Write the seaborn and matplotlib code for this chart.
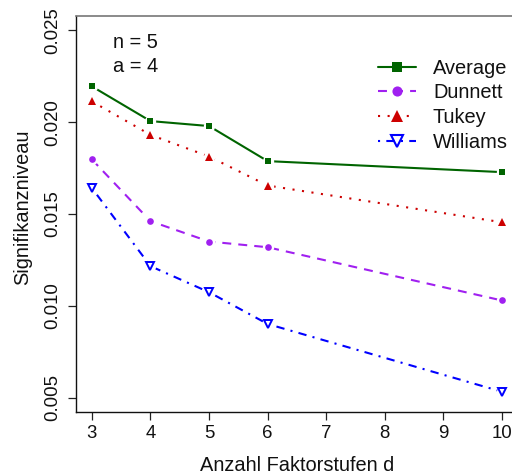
import matplotlib
matplotlib.use("Agg")
import matplotlib.pyplot as plt
from matplotlib.lines import Line2D
import seaborn as sns
import pandas as pd

# Significance level by number of factor levels d (n = 5, a = 4)
d = [3, 4, 5, 6, 10]
average = [0.02195, 0.02006, 0.01979, 0.01788, 0.01728]
dunnett = [0.01797, 0.01461, 0.01350, 0.01319, 0.01029]
tukey = [0.02113, 0.01931, 0.01813, 0.01655, 0.01455]
williams = [0.01641, 0.01216, 0.01074, 0.00901, 0.00532]

x_ticks = [3, 4, 5, 6, 7, 8, 9, 10]
y_ticks = [0.005, 0.010, 0.015, 0.020, 0.025]
annotations = ["n = 5", "a = 4"]

sns.set_theme(style="ticks")
plt.rcParams["font.family"] = ["Liberation Sans", "DejaVu Sans"]

W, H = 512, 476
fig = plt.figure(figsize=(W / 100, H / 100), dpi=100)
ax_l, ax_r, ax_t, ax_b = 75.5, 518.4, 15.7, 412.3
ax = fig.add_axes([ax_l / W, 1 - ax_b / H, (ax_r - ax_l) / W, (ax_b - ax_t) / H])

lw = 1.5
series = [
    # name, values, colour, dash pattern, marker, plot size, legend size, filled
    ("Average", average, "#006400", "-", "s", 4.4, 6.8, True),
    ("Dunnett", dunnett, "#A020F0", (0, (4.3, 3.4)), "o", 4.8, 7.3, True),
    ("Tukey", tukey, "#CD0000", (0, (1, 3.6)), "^", 5.6, 9.2, True),
    ("Williams", williams, "#0000FF", (0, (1, 3, 4, 3)), "v", 5.8, 9.0, False),
]

handles = []
for name, vals, col, ls, mk, ms, lms, filled in series:
    df = pd.DataFrame({"d": d, "p": vals})
    # connecting line
    sns.lineplot(data=df, x="d", y="p", ax=ax, color=col, linestyle=ls,
                 linewidth=lw, zorder=2)
    # white halo leaves a small gap in the line around each point
    sns.lineplot(data=df, x="d", y="p", ax=ax, color="white", linestyle="none",
                 marker="o", markersize=8.2, markeredgewidth=0,
                 markerfacecolor="white", zorder=3)
    # point symbols
    sns.lineplot(data=df, x="d", y="p", ax=ax, color=col, linestyle="none",
                 marker=mk, markersize=ms,
                 markerfacecolor=col if filled else "none",
                 markeredgecolor=col,
                 markeredgewidth=0 if filled else 1.4, zorder=4)
    handles.append(Line2D([], [], color=col, linestyle=ls, linewidth=lw,
                          marker=mk, markersize=lms,
                          markerfacecolor=col if filled else "none",
                          markeredgecolor=col,
                          markeredgewidth=0 if filled else 1.5,
                          label=name))

ax.set_xlim(2.72, 10.28)
ax.set_ylim(0.0042, 0.0258)
ax.set_xticks(x_ticks)
ax.set_xticklabels([str(v) for v in x_ticks])
ax.set_yticks(y_ticks)
ax.set_yticklabels([f"{v:.3f}" for v in y_ticks], rotation=90, va="center")

ax.tick_params(axis="both", direction="out", length=5.8, width=0.9,
               color="#222222", labelsize=13.4, labelcolor="#111111")
ax.tick_params(axis="x", pad=3.5)
ax.tick_params(axis="y", pad=4.5)

for side in ["left", "bottom"]:
    ax.spines[side].set_color("#111111")
    ax.spines[side].set_linewidth(1.0)
ax.spines["top"].set_color("#777777")
ax.spines["top"].set_linewidth(1.2)
ax.spines["right"].set_visible(False)

ax.set_xlabel("Anzahl Faktorstufen d", fontsize=14.4, color="#111111")
ax.set_ylabel("Signifikanzniveau", fontsize=14.4, color="#111111")
ax.xaxis.set_label_coords(0.5, -0.147)
ax.xaxis.label.set_va("baseline")
ax.yaxis.set_label_coords(-0.12, 0.518)
ax.yaxis.label.set_va("center")

ax.text(0.0847, 0.918, annotations[0], transform=ax.transAxes,
        fontsize=14.4, va="baseline", ha="left", color="#111111")
ax.text(0.0847, 0.859, annotations[1], transform=ax.transAxes,
        fontsize=14.4, va="baseline", ha="left", color="#111111")

leg = ax.legend(handles=handles, loc="upper left",
                bbox_to_anchor=(0.682, 0.892), frameon=False,
                fontsize=14.4, handlelength=1.9, handletextpad=0.87,
                labelspacing=0.29, borderpad=0, borderaxespad=0)
for t in leg.get_texts():
    t.set_color("#111111")

fig.savefig("out.png", dpi=100)
